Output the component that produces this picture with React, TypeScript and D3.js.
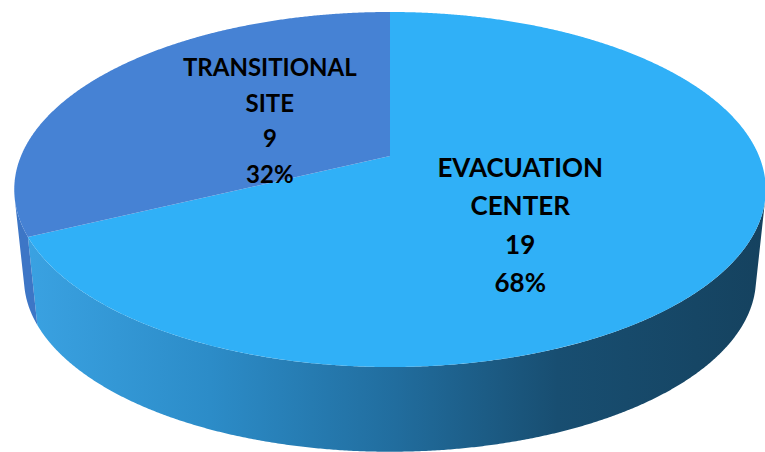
import React from "react";
import * as d3 from "d3";

// ---- data ----
const categories = ["EVACUATION CENTER", "TRANSITIONAL SITE"];
const labelLines = [["EVACUATION", "CENTER"], ["TRANSITIONAL", "SITE"]];
const values = [19, 9];
const topColors = ["#30B0F7", "#4682D4"];
const sideColors = ["url(#sideGrad)", "#3D76C6"];

// ---- layout / projection ----
const W = 765, H = 452;
const X0 = 390, Y0 = 156;      // projected pie centre
const A = 369, B = 171.2, K = 0.1887; // perspective of the top face
const VX = 390, VY = 3626, S = 0.974; // vertical vanishing point and bottom-face homothety
const labelR = 0.4;
const labelNudge = [31, 0];
const fontSizes = [26, 24];
const lineGaps = [38.5, 35.5];

function projTop(theta: number, r = 1): [number, number] {
  const u = r * Math.sin(theta), v = r * Math.cos(theta);
  const w = 1 + K * v;
  return [X0 + (A * u) / w, Y0 - (B * v) / w];
}
function projBottom(theta: number, r = 1): [number, number] {
  const [x, y] = projTop(theta, r);
  return [VX + S * (x - VX), VY + S * (y - VY)];
}
function arcPts(f: (t: number) => [number, number], a: number, b: number) {
  const n = Math.max(2, Math.ceil(Math.abs(b - a) / 0.005));
  return d3.range(n + 1).map((i) => f(a + ((b - a) * i) / n));
}
// silhouette angles: where the vertical (towards VX,VY) line is tangent to the top ellipse
function silhouette(a: number, b: number, wantMax: boolean) {
  let best = a, bestVal = wantMax ? -Infinity : Infinity;
  for (let t = a; t <= b; t += 0.0005) {
    const [x, y] = projTop(t);
    const val = (x - VX) / (VY - y);
    if (wantMax ? val > bestVal : val < bestVal) { bestVal = val; best = t; }
  }
  return best;
}

export default function App() {
  const pie = d3.pie<number>().sort(null).value((d) => d)(values);
  const total = d3.sum(values);
  const line = d3.line();
  const sR = silhouette(0, Math.PI, true);
  const sL = silhouette(Math.PI, 2 * Math.PI, false);

  const sides = pie.map((p, i) => {
    let a = Math.max(p.startAngle, sR);
    let b = Math.min(p.endAngle, sL);
    if (b <= a) return null;
    const pts = [...arcPts(projTop, a, b), ...arcPts(projBottom, b, a)];
    return <path key={"s" + i} d={line(pts as any) + "Z"} fill={sideColors[i]} />;
  });

  const tops = pie.map((p, i) => {
    const pts = [projTop(0, 0), ...arcPts(projTop, p.startAngle, p.endAngle)];
    return <path key={"t" + i} d={line(pts as any) + "Z"} fill={topColors[i]} />;
  });

  const labels = pie.map((p, i) => {
    const mid = (p.startAngle + p.endAngle) / 2;
    const [lx, ly0] = projTop(mid, labelR);
    const ly = ly0 + labelNudge[i];
    const lines = [...labelLines[i], String(values[i]), Math.round((values[i] / total) * 100) + "%"];
    const gap = lineGaps[i];
    const fs = fontSizes[i];
    const firstBase = ly - ((lines.length - 1) * gap) / 2 + fs * 0.36;
    return (
      <text key={"l" + i} x={lx} textAnchor="middle" fontFamily="Lato, 'Open Sans', sans-serif" fontWeight="bold" fontSize={fs} fill="#000">
        {lines.map((s, j) => (
          <tspan key={j} x={lx} y={firstBase + j * gap}>{s}</tspan>
        ))}
      </text>
    );
  });

  return (
    <svg width={W} height={H} style={{ position: "absolute", left: 0, top: 0, background: "#fff" }}>
      <defs>
        <linearGradient id="sideGrad" gradientUnits="userSpaceOnUse" x1={25} y1={0} x2={765} y2={0}>
          <stop offset="0" stopColor="#3AA2E2" />
          <stop offset="0.25" stopColor="#2C8CC8" />
          <stop offset="0.5" stopColor="#216D9E" />
          <stop offset="0.72" stopColor="#184E71" />
          <stop offset="1" stopColor="#15425F" />
        </linearGradient>
      </defs>
      <g aria-label={categories.join(", ")}>
        {sides}
        {tops}
        {labels}
      </g>
    </svg>
  );
}
